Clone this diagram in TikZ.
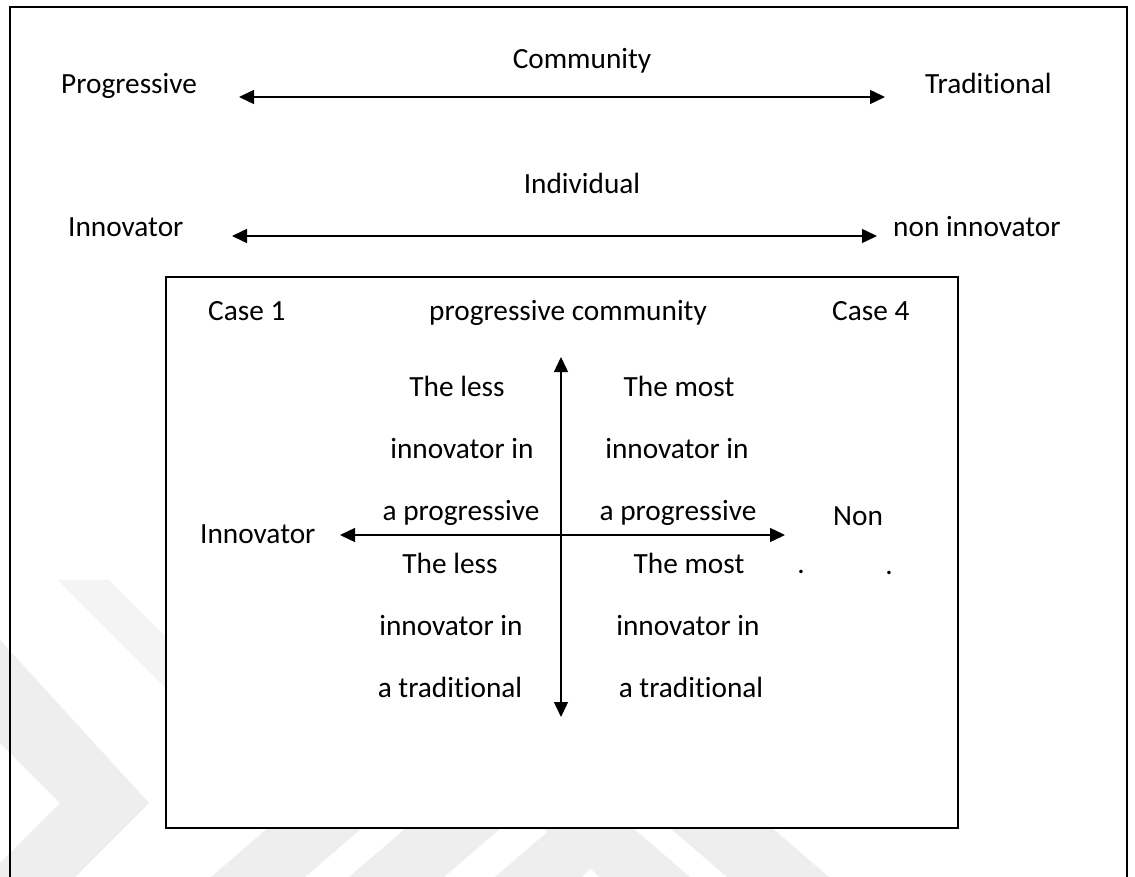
\documentclass[tikz,border=0pt]{standalone}
\usepackage{fontspec}
\setmainfont[Ligatures=NoCommon]{Carlito}
\usetikzlibrary{arrows.meta}
\definecolor{wm}{HTML}{EEEEEE}
\definecolor{wmlight}{HTML}{F4F4F4}
\begin{document}
\begin{tikzpicture}[x=1pt,y=-1pt,
  lbl/.style={anchor=base, inner sep=0pt, font=\fontsize{29.3}{34}\selectfont},
  lblw/.style={lbl, anchor=base west},
  frame/.style={draw=black, line width=1.6pt},
  tip/.tip={Triangle[length=15pt,width=14pt]},
  axis/.style={line width=1.4pt, tip-tip}]
\useasboundingbox (0,0) rectangle (1135,877);
\fill[white] (0,0) rectangle (1135,877);
\begin{scope}
\clip (0,0) rectangle (1135,877);
% faint watermark
\fill[wmlight] (58,580) -- (109,580) -- (166,637) -- (166,688) -- cycle;
\fill[wm] (0,640) -- (149,803) -- (75,877) -- (0,877) -- (0,863) -- (60,803) -- (0,743) -- cycle;
\fill[wm] (211,877) -- (305,877) -- (362,828) -- (268,828) -- cycle;
\fill[wm] (349,877) -- (444,877) -- (501,828) -- (406,828) -- cycle;
\fill[wm] (495,877) -- (582,877) -- (630,828) -- (552,828) -- cycle;
\fill[wm] (600,877) -- (690,877) -- (633,828) -- (543,828) -- cycle;
\fill[wm] (727,877) -- (829,877) -- (772,828) -- (670,828) -- cycle;
% outer frame (bottom edge lies below the picture)
\draw[frame] (10,7) rectangle (1127,900);
\end{scope}
% inner box
\draw[frame, fill=white] (166,277) rectangle (958,828);

% top scales
\node[lbl] (community) at (582,69) {Community};
\node[lblw] (progressive) at (61,94) {Progressive};
\node[lblw] (traditional) at (925,94) {Traditional};
\coordinate (c1l) at (239,97);
\coordinate (c1r) at (885,97);
\draw[axis] (c1l) -- (c1r);

\node[lbl] (individual) at (582,194) {Individual};
\node[lblw] (innovtop) at (68,237) {Innovator};
\node[lblw] (noninnov) at (893,237) {non innovator};
\coordinate (c2l) at (232,236);
\coordinate (c2r) at (877,236);
\draw[axis] (c2l) -- (c2r);

% inner box content
\node[lblw] (case1) at (208,320) {Case 1};
\node[lbl] (progcomm) at (568,320) {progressive community};
\node[lblw] (case4) at (832,320) {Case 4};

\coordinate (vt) at (561,357);
\coordinate (vb) at (561,717);
\draw[axis] (vt) -- (vb);
\coordinate (hl) at (340,535);
\coordinate (hr) at (785,535);
\draw[axis] (hl) -- (hr);

\node[lblw] (innovin) at (200,543) {Innovator};
\node[lblw] (non) at (833,525) {Non};
\node[lbl] (dota) at (801,573) {.};
\node[lbl] (dotb) at (889,574) {.};

% quadrant texts
\node[lbl] (ul1) at (457,396) {The less};
\node[lbl] (ul2) at (462,458) {innovator in};
\node[lbl] (ul3) at (461,520) {a progressive};
\node[lbl] (ur1) at (679,396) {The most};
\node[lbl] (ur2) at (677,458) {innovator in};
\node[lbl] (ur3) at (678,520) {a progressive};
\node[lbl] (ll1) at (450,573) {The less};
\node[lbl] (ll2) at (451,635) {innovator in};
\node[lbl] (ll3) at (450,697) {a traditional};
\node[lbl] (lr1) at (689,573) {The most};
\node[lbl] (lr2) at (688,635) {innovator in};
\node[lbl] (lr3) at (691,697) {a traditional};
\end{tikzpicture}
\end{document}
